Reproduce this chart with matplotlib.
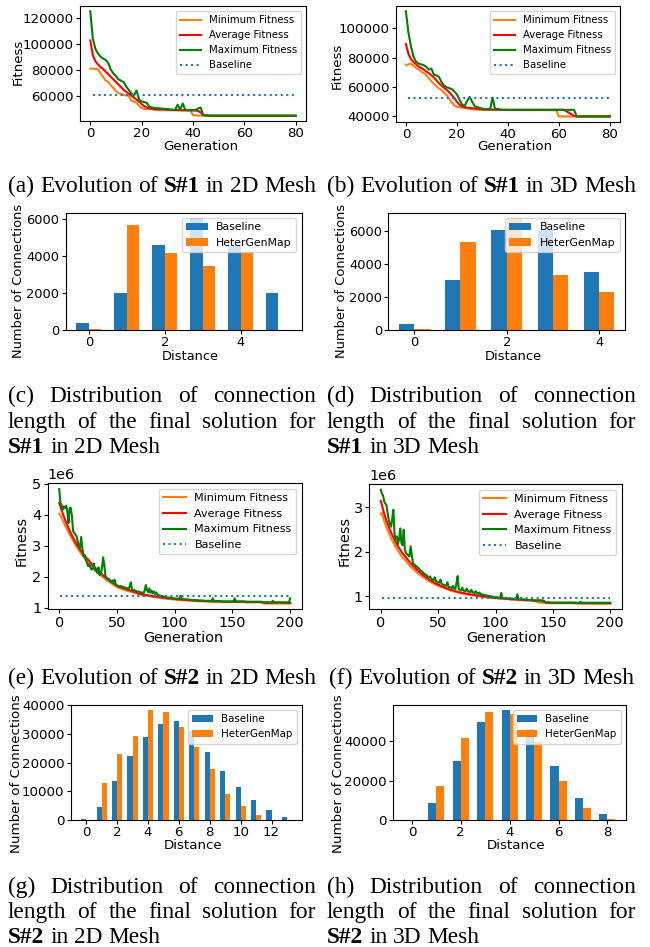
import numpy as np
import matplotlib
matplotlib.use("Agg")
import matplotlib.pyplot as plt
from matplotlib.ticker import MultipleLocator

# ---------------- data ----------------
# S#1 evolution, fitness values in thousands
gens_1 = list(range(81))

min_2d_s1 = [80.8, 80.8, 80.5, 80.5, 77.0, 74.5, 71.5, 70.5, 68.0, 66.0,
             63.5, 62.0, 61.3, 60.5, 60.2, 59.8, 56.0, 55.5, 54.5, 52.0,
             50.5, 49.8, 49.7, 49.6, 49.5, 49.0, 49.0, 48.9, 48.9, 48.8,
             48.8, 48.8, 48.7, 48.7, 48.7, 48.6, 48.6, 48.6, 48.5, 48.5,
             45.0, 44.8, 44.7, 44.6, 44.6, 44.5, 44.5, 44.5, 44.5, 44.5,
             44.5, 44.5, 44.5, 44.5, 44.5, 44.5, 44.5, 44.5, 44.5, 44.5,
             44.5, 44.5, 44.5, 44.5, 44.5, 44.5, 44.5, 44.5, 44.5, 44.5,
             44.5, 44.5, 44.5, 44.5, 44.5, 44.5, 44.5, 44.5, 44.5, 44.5,
             44.5]
avg_2d_s1 = [102.5, 91.0, 86.5, 84.0, 82.0, 80.5, 78.5, 76.5, 74.5, 72.5,
             70.5, 68.5, 66.5, 64.5, 63.0, 61.5, 60.0, 58.5, 57.0, 55.5,
             53.5, 52.0, 51.0, 50.3, 50.0, 49.8, 49.6, 49.5, 49.4, 49.3,
             49.2, 49.1, 49.0, 49.0, 48.9, 48.9, 48.8, 48.8, 48.7, 48.7,
             48.6, 48.5, 48.2, 47.0, 45.2, 44.7, 44.6, 44.5, 44.5, 44.5,
             44.5, 44.5, 44.5, 44.5, 44.5, 44.5, 44.5, 44.5, 44.5, 44.5,
             44.5, 44.5, 44.5, 44.5, 44.5, 44.5, 44.5, 44.5, 44.5, 44.5,
             44.5, 44.5, 44.5, 44.5, 44.5, 44.5, 44.5, 44.5, 44.5, 44.5,
             44.5]
max_2d_s1 = [125.0, 104.0, 96.0, 92.5, 90.0, 88.5, 87.5, 85.0, 80.0, 77.0,
             75.0, 72.5, 71.5, 70.5, 67.0, 64.5, 61.5, 60.0, 64.0, 57.0,
             55.5, 55.0, 54.5, 51.6, 50.9, 50.5, 50.3, 50.2, 50.0, 49.8,
             49.6, 49.4, 49.2, 49.0, 53.0, 49.2, 54.0, 49.0, 48.9, 48.9,
             48.9, 48.9, 50.2, 50.8, 45.0, 44.8, 44.7, 44.7, 44.6, 44.6,
             44.6, 44.6, 44.6, 44.6, 44.6, 44.6, 44.6, 44.6, 44.6, 44.6,
             44.6, 44.6, 44.6, 44.6, 44.6, 44.6, 44.6, 44.6, 44.6, 44.6,
             44.6, 44.6, 44.6, 44.6, 44.6, 44.6, 44.6, 44.6, 44.6, 44.6,
             44.6]
base_2d_s1 = 60.8

min_3d_s1 = [74.9, 75.5, 76.0, 74.5, 73.0, 72.0, 70.5, 69.5, 68.0, 66.0,
             64.0, 62.0, 60.5, 59.0, 58.0, 56.0, 54.5, 52.0, 49.5, 47.5,
             46.5, 46.3, 46.0, 45.8, 45.5, 45.2, 45.0, 44.8, 44.6, 44.5,
             44.4, 44.4, 44.4, 44.4, 44.4, 44.4, 44.4, 44.4, 44.4, 44.4,
             44.3, 44.3, 44.3, 44.3, 44.3, 44.3, 44.3, 44.3, 44.3, 44.3,
             44.3, 44.3, 44.3, 44.3, 44.3, 44.3, 44.3, 44.3, 44.3, 44.3,
             40.0, 40.0, 40.0, 40.0, 40.0, 40.0, 40.0, 40.0, 40.0, 40.0,
             40.0, 40.0, 40.0, 40.0, 40.0, 40.0, 40.0, 40.0, 40.0, 40.0,
             40.0]
avg_3d_s1 = [89.3, 82.5, 79.0, 77.0, 75.5, 74.0, 73.0, 72.0, 70.5, 69.5,
             68.0, 66.5, 64.5, 62.5, 61.0, 59.5, 58.0, 56.5, 54.5, 52.5,
             50.0, 48.0, 46.8, 46.2, 46.0, 45.8, 45.6, 45.5, 45.4, 45.2,
             45.0, 44.9, 44.8, 44.8, 44.7, 44.6, 44.6, 44.5, 44.5, 44.5,
             44.5, 44.5, 44.5, 44.5, 44.5, 44.5, 44.5, 44.5, 44.5, 44.5,
             44.5, 44.5, 44.5, 44.5, 44.5, 44.5, 44.5, 44.5, 44.5, 44.5,
             44.5, 44.5, 44.5, 43.5, 42.5, 41.5, 40.3, 40.0, 40.0, 40.0,
             40.0, 40.0, 40.0, 40.0, 40.0, 40.0, 40.0, 40.0, 40.0, 40.0,
             40.0]
max_3d_s1 = [111.6, 97.0, 87.7, 80.7, 77.2, 76.0, 75.4, 74.9, 73.7, 71.9,
             72.6, 68.4, 68.0, 66.8, 63.3, 61.0, 59.8, 59.3, 58.6, 57.0,
             55.1, 51.6, 48.1, 47.0, 50.5, 53.3, 50.0, 47.0, 46.3, 45.8,
             45.3, 45.0, 44.8, 44.7, 52.8, 44.7, 45.3, 44.6, 44.5, 44.5,
             44.5, 44.5, 44.5, 44.5, 44.5, 44.5, 44.5, 44.5, 44.5, 44.5,
             44.5, 44.5, 44.5, 44.5, 44.5, 44.5, 44.5, 44.5, 44.5, 44.5,
             44.5, 44.5, 44.5, 44.5, 44.5, 44.5, 44.5, 40.0, 40.0, 40.0,
             40.0, 40.0, 40.0, 40.0, 40.0, 40.0, 40.0, 40.0, 40.0, 40.0,
             40.0]
base_3d_s1 = 52.5

# S#2 evolution, fitness values in millions
gens_2 = list(range(201))

min_2d_s2 = [4.03, 3.98, 3.90, 3.82, 3.74, 3.66, 3.58, 3.50, 3.43, 3.36,
             3.30, 3.23, 3.16, 3.09, 3.03, 2.97, 2.91, 2.85, 2.80, 2.74,
             2.69, 2.64, 2.60, 2.55, 2.51, 2.47, 2.42, 2.38, 2.34, 2.30,
             2.26, 2.22, 2.18, 2.14, 2.11, 2.07, 2.04, 2.01, 1.98, 1.95,
             1.92, 1.89, 1.86, 1.84, 1.81, 1.79, 1.76, 1.74, 1.71, 1.69,
             1.66, 1.65, 1.63, 1.62, 1.60, 1.59, 1.58, 1.57, 1.55, 1.54,
             1.53, 1.52, 1.51, 1.50, 1.49, 1.48, 1.47, 1.46, 1.44, 1.43,
             1.42, 1.41, 1.40, 1.40, 1.39, 1.38, 1.38, 1.37, 1.37, 1.36,
             1.35, 1.35, 1.34, 1.34, 1.33, 1.33, 1.32, 1.32, 1.31, 1.31,
             1.30, 1.30, 1.29, 1.29, 1.28, 1.28, 1.28, 1.27, 1.27, 1.26,
             1.26, 1.26, 1.25, 1.25, 1.25, 1.24, 1.24, 1.24, 1.23, 1.23,
             1.23, 1.23, 1.22, 1.22, 1.22, 1.22, 1.21, 1.21, 1.21, 1.21,
             1.21, 1.20, 1.20, 1.20, 1.20, 1.20, 1.20, 1.20, 1.20, 1.20,
             1.19, 1.19, 1.19, 1.19, 1.19, 1.19, 1.19, 1.19, 1.19, 1.19,
             1.19, 1.18, 1.18, 1.18, 1.18, 1.18, 1.18, 1.18, 1.18, 1.18,
             1.18, 1.18, 1.18, 1.18, 1.18, 1.18, 1.18, 1.18, 1.18, 1.18,
             1.18, 1.17, 1.17, 1.17, 1.17, 1.17, 1.17, 1.17, 1.17, 1.17,
             1.17, 1.17, 1.17, 1.17, 1.17, 1.17, 1.14, 1.14, 1.13, 1.13,
             1.13, 1.13, 1.13, 1.13, 1.13, 1.13, 1.13, 1.13, 1.13, 1.13,
             1.13, 1.13, 1.13, 1.13, 1.13, 1.13, 1.13, 1.13, 1.13, 1.13,
             1.13]
avg_2d_s2 = [4.38, 4.26, 4.15, 4.04, 3.94, 3.84, 3.75, 3.66, 3.57, 3.49,
             3.41, 3.33, 3.26, 3.19, 3.12, 3.05, 2.99, 2.93, 2.88, 2.82,
             2.77, 2.72, 2.68, 2.63, 2.59, 2.55, 2.50, 2.46, 2.42, 2.37,
             2.33, 2.29, 2.25, 2.21, 2.18, 2.14, 2.11, 2.08, 2.04, 2.01,
             1.98, 1.95, 1.92, 1.89, 1.87, 1.84, 1.81, 1.78, 1.76, 1.73,
             1.70, 1.69, 1.67, 1.66, 1.64, 1.63, 1.62, 1.61, 1.59, 1.58,
             1.57, 1.56, 1.55, 1.53, 1.52, 1.51, 1.50, 1.49, 1.47, 1.46,
             1.45, 1.44, 1.43, 1.42, 1.42, 1.41, 1.40, 1.40, 1.39, 1.39,
             1.38, 1.37, 1.37, 1.36, 1.36, 1.35, 1.34, 1.34, 1.33, 1.33,
             1.32, 1.32, 1.31, 1.31, 1.30, 1.30, 1.30, 1.29, 1.29, 1.28,
             1.28, 1.28, 1.27, 1.27, 1.27, 1.26, 1.26, 1.26, 1.25, 1.25,
             1.25, 1.25, 1.24, 1.24, 1.24, 1.24, 1.23, 1.23, 1.23, 1.23,
             1.23, 1.22, 1.22, 1.22, 1.22, 1.22, 1.21, 1.21, 1.21, 1.21,
             1.21, 1.21, 1.20, 1.20, 1.20, 1.20, 1.20, 1.20, 1.20, 1.20,
             1.20, 1.20, 1.19, 1.19, 1.19, 1.19, 1.19, 1.19, 1.19, 1.19,
             1.19, 1.19, 1.19, 1.19, 1.19, 1.19, 1.19, 1.19, 1.19, 1.19,
             1.19, 1.18, 1.18, 1.18, 1.18, 1.18, 1.18, 1.18, 1.18, 1.18,
             1.18, 1.18, 1.18, 1.18, 1.18, 1.18, 1.17, 1.17, 1.16, 1.16,
             1.16, 1.16, 1.16, 1.16, 1.16, 1.16, 1.16, 1.16, 1.16, 1.16,
             1.16, 1.16, 1.16, 1.15, 1.15, 1.15, 1.15, 1.15, 1.15, 1.15,
             1.15]
max_2d_s2 = [4.83, 4.38, 4.32, 4.16, 4.27, 4.22, 4.29, 4.11, 3.73, 4.22,
             4.22, 3.95, 3.47, 3.41, 3.36, 3.30, 3.14, 2.98, 2.93, 3.28,
             2.93, 2.66, 2.70, 2.55, 2.45, 2.34, 2.40, 2.29, 2.23, 2.25,
             2.42, 2.20, 2.22, 2.12, 2.30, 2.05, 2.10, 2.28, 2.62, 2.40,
             2.02, 1.96, 1.92, 1.93, 1.86, 1.82, 1.88, 1.78, 1.90, 1.75,
             1.72, 1.70, 1.69, 1.70, 1.66, 1.68, 1.64, 1.65, 1.62, 1.63,
             1.60, 1.68, 1.82, 1.58, 1.56, 1.57, 1.54, 1.53, 1.52, 1.51,
             1.50, 1.49, 1.48, 1.47, 1.55, 1.73, 1.56, 1.50, 1.62, 1.48,
             1.55, 1.46, 1.52, 1.44, 1.49, 1.42, 1.40, 1.39, 1.38, 1.37,
             1.36, 1.35, 1.34, 1.33, 1.33, 1.32, 1.32, 1.31, 1.31, 1.30,
             1.30, 1.29, 1.29, 1.28, 1.30, 1.38, 1.30, 1.27, 1.26, 1.27,
             1.26, 1.26, 1.27, 1.25, 1.25, 1.25, 1.24, 1.24, 1.24, 1.24,
             1.23, 1.23, 1.23, 1.23, 1.23, 1.22, 1.22, 1.22, 1.22, 1.22,
             1.22, 1.22, 1.21, 1.30, 1.21, 1.21, 1.21, 1.21, 1.21, 1.21,
             1.21, 1.20, 1.20, 1.20, 1.20, 1.20, 1.20, 1.20, 1.20, 1.20,
             1.20, 1.20, 1.30, 1.20, 1.20, 1.20, 1.20, 1.20, 1.20, 1.20,
             1.20, 1.20, 1.19, 1.19, 1.19, 1.19, 1.19, 1.19, 1.19, 1.19,
             1.19, 1.19, 1.19, 1.19, 1.19, 1.19, 1.18, 1.18, 1.17, 1.17,
             1.17, 1.17, 1.17, 1.17, 1.17, 1.22, 1.17, 1.17, 1.17, 1.17,
             1.17, 1.17, 1.17, 1.17, 1.17, 1.17, 1.17, 1.17, 1.17, 1.17,
             1.30]
base_2d_s2 = 1.39

min_3d_s2 = [2.85, 2.88, 2.78, 2.70, 2.62, 2.55, 2.49, 2.43, 2.37, 2.31,
             2.26, 2.21, 2.16, 2.11, 2.07, 2.03, 1.99, 1.95, 1.91, 1.88,
             1.85, 1.82, 1.79, 1.76, 1.73, 1.70, 1.67, 1.65, 1.62, 1.60,
             1.58, 1.55, 1.53, 1.51, 1.49, 1.47, 1.45, 1.43, 1.41, 1.40,
             1.38, 1.36, 1.35, 1.33, 1.32, 1.30, 1.29, 1.28, 1.26, 1.25,
             1.24, 1.23, 1.22, 1.21, 1.20, 1.19, 1.18, 1.17, 1.16, 1.15,
             1.14, 1.13, 1.13, 1.12, 1.11, 1.11, 1.10, 1.09, 1.09, 1.08,
             1.07, 1.07, 1.06, 1.06, 1.05, 1.05, 1.04, 1.04, 1.03, 1.03,
             1.03, 1.02, 1.02, 1.01, 1.01, 1.01, 1.00, 1.00, 1.00, 0.99,
             0.99, 0.99, 0.98, 0.98, 0.98, 0.97, 0.97, 0.97, 0.97, 0.96,
             0.96, 0.96, 0.96, 0.95, 0.95, 0.95, 0.95, 0.95, 0.94, 0.94,
             0.94, 0.94, 0.94, 0.93, 0.93, 0.93, 0.93, 0.93, 0.93, 0.92,
             0.92, 0.92, 0.92, 0.92, 0.92, 0.91, 0.91, 0.91, 0.91, 0.91,
             0.91, 0.91, 0.90, 0.90, 0.90, 0.89, 0.88, 0.87, 0.86, 0.86,
             0.86, 0.86, 0.86, 0.86, 0.85, 0.85, 0.85, 0.85, 0.85, 0.85,
             0.85, 0.85, 0.85, 0.85, 0.85, 0.85, 0.85, 0.85, 0.85, 0.85,
             0.85, 0.85, 0.85, 0.85, 0.85, 0.85, 0.85, 0.85, 0.85, 0.85,
             0.85, 0.85, 0.85, 0.85, 0.85, 0.84, 0.84, 0.84, 0.84, 0.84,
             0.84, 0.84, 0.84, 0.84, 0.84, 0.84, 0.84, 0.84, 0.84, 0.84,
             0.84, 0.84, 0.84, 0.84, 0.84, 0.84, 0.84, 0.84, 0.84, 0.84,
             0.84]
avg_3d_s2 = [3.15, 3.05, 2.95, 2.86, 2.78, 2.70, 2.63, 2.57, 2.50, 2.44,
             2.38, 2.33, 2.27, 2.22, 2.17, 2.13, 2.09, 2.05, 2.01, 1.97,
             1.94, 1.91, 1.88, 1.84, 1.81, 1.78, 1.75, 1.72, 1.69, 1.67,
             1.64, 1.62, 1.59, 1.57, 1.54, 1.52, 1.50, 1.48, 1.46, 1.44,
             1.42, 1.40, 1.38, 1.37, 1.35, 1.34, 1.32, 1.31, 1.29, 1.28,
             1.27, 1.26, 1.24, 1.23, 1.22, 1.21, 1.20, 1.19, 1.18, 1.17,
             1.16, 1.15, 1.14, 1.14, 1.13, 1.12, 1.11, 1.11, 1.10, 1.09,
             1.09, 1.08, 1.08, 1.07, 1.07, 1.06, 1.06, 1.05, 1.05, 1.04,
             1.04, 1.04, 1.03, 1.03, 1.02, 1.02, 1.02, 1.01, 1.01, 1.01,
             1.00, 1.00, 1.00, 0.99, 0.99, 0.99, 0.98, 0.98, 0.98, 0.97,
             0.97, 0.97, 0.97, 0.96, 0.96, 0.96, 0.96, 0.96, 0.95, 0.95,
             0.95, 0.95, 0.95, 0.94, 0.94, 0.94, 0.94, 0.94, 0.94, 0.93,
             0.93, 0.93, 0.93, 0.93, 0.93, 0.92, 0.92, 0.92, 0.92, 0.92,
             0.92, 0.92, 0.91, 0.91, 0.91, 0.91, 0.91, 0.91, 0.91, 0.91,
             0.91, 0.90, 0.88, 0.87, 0.86, 0.86, 0.86, 0.86, 0.86, 0.86,
             0.86, 0.86, 0.86, 0.86, 0.86, 0.86, 0.86, 0.86, 0.86, 0.86,
             0.86, 0.86, 0.86, 0.86, 0.86, 0.86, 0.86, 0.86, 0.86, 0.86,
             0.85, 0.85, 0.85, 0.85, 0.85, 0.85, 0.85, 0.85, 0.85, 0.85,
             0.85, 0.85, 0.85, 0.85, 0.85, 0.85, 0.85, 0.85, 0.85, 0.85,
             0.85, 0.85, 0.85, 0.85, 0.85, 0.85, 0.85, 0.85, 0.85, 0.85,
             0.85]
max_3d_s2 = [3.40, 3.31, 3.27, 3.13, 3.09, 3.05, 2.87, 2.72, 2.62, 2.57,
             2.75, 2.95, 2.40, 2.28, 2.35, 2.18, 2.30, 2.53, 2.20, 2.15,
             2.50, 2.05, 1.98, 1.95, 1.92, 1.90, 2.13, 1.95, 1.76, 1.72,
             1.70, 1.68, 1.66, 1.63, 1.60, 1.58, 1.56, 1.53, 1.51, 1.49,
             1.48, 1.44, 1.43, 1.45, 1.40, 1.38, 1.37, 1.43, 1.35, 1.33,
             1.32, 1.31, 1.38, 1.29, 1.27, 1.26, 1.25, 1.24, 1.32, 1.22,
             1.21, 1.20, 1.19, 1.24, 1.18, 1.17, 1.30, 1.46, 1.16, 1.15,
             1.14, 1.20, 1.13, 1.13, 1.12, 1.18, 1.11, 1.11, 1.10, 1.15,
             1.09, 1.09, 1.08, 1.12, 1.07, 1.06, 1.09, 1.05, 1.05, 1.04,
             1.03, 1.03, 1.02, 1.02, 1.01, 1.01, 1.00, 1.00, 0.99, 0.99,
             0.98, 0.98, 0.98, 0.97, 0.97, 1.08, 0.97, 0.96, 0.96, 0.96,
             0.96, 0.95, 0.95, 0.95, 0.95, 0.95, 0.94, 0.94, 0.94, 1.05,
             0.94, 0.93, 0.93, 0.93, 0.93, 0.93, 0.93, 0.92, 0.92, 0.92,
             0.92, 0.92, 0.92, 0.91, 0.91, 0.91, 0.91, 0.91, 0.91, 0.91,
             0.91, 0.91, 0.91, 0.88, 0.87, 0.87, 0.87, 0.86, 0.86, 0.86,
             0.86, 0.86, 0.86, 0.86, 0.86, 0.86, 0.86, 0.86, 0.86, 0.86,
             0.86, 0.86, 0.86, 0.86, 0.86, 0.86, 0.86, 0.86, 0.86, 0.86,
             0.86, 0.86, 0.86, 0.86, 0.88, 0.86, 0.86, 0.86, 0.86, 0.86,
             0.86, 0.86, 0.86, 0.86, 0.86, 0.86, 0.86, 0.86, 0.86, 0.86,
             0.86, 0.86, 0.86, 0.86, 0.86, 0.86, 0.86, 0.86, 0.86, 0.86,
             0.86]
base_3d_s2 = 0.96

# connection length distributions
dist_2d_s1 = [0, 1, 2, 3, 4, 5]
conn_base_2d_s1 = [370, 2000, 4600, 6050, 4600, 2000]
conn_hgm_2d_s1 = [30, 5700, 4150, 3450, 4250, 10]

dist_3d_s1 = [0, 1, 2, 3, 4]
conn_base_3d_s1 = [350, 3050, 6050, 6050, 3500]
conn_hgm_3d_s1 = [50, 5300, 6750, 3300, 2300]

dist_2d_s2 = [0, 1, 2, 3, 4, 5, 6, 7, 8, 9, 10, 11, 12, 13]
conn_base_2d_s2 = [200, 4650, 13400, 22400, 28700, 33250, 34300, 30800,
                   23800, 17200, 11600, 7000, 3600, 1200]
conn_hgm_2d_s2 = [100, 12700, 23000, 29300, 38100, 37400, 32200, 25500,
                  17900, 9200, 5000, 1900, 100, 50]

dist_3d_s2 = [0, 1, 2, 3, 4, 5, 6, 7, 8]
conn_base_3d_s2 = [200, 8800, 29700, 49500, 55600, 46000, 27600, 11400, 3200]
conn_hgm_3d_s2 = [200, 17500, 41400, 54600, 53900, 39700, 20000, 6300, 700]

# ---------------- layout ----------------
W, H = 650, 947
fig = plt.figure(figsize=(W / 100, H / 100), dpi=100)


def axes_px(box):
    l, t, r, b = box
    ax = fig.add_axes([l / W, 1 - b / H, (r - l) / W, (b - t) / H])
    ax.tick_params(length=2.6, pad=2.0)
    return ax


def place_labels(ax, box, xlabel, ylabel, xpos, ypos, fs):
    l, t, r, b = box
    ax.set_xlabel(xlabel, fontsize=fs, va="center")
    ax.set_ylabel(ylabel, fontsize=fs, va="center")
    ax.xaxis.set_label_coords((xpos[0] - l) / (r - l), (b - xpos[1]) / (b - t))
    ax.yaxis.set_label_coords((ypos[0] - l) / (r - l), (b - ypos[1]) / (b - t))


def fitness_plot(box, gens, mn, av, mx, base, scale, xstep, ystep,
                 xpos, ypos, fs, fs_leg):
    ax = axes_px(box)
    ax.plot(gens, np.array(mn) * scale, color="tab:orange", label="Minimum Fitness")
    ax.plot(gens, np.array(av) * scale, color="red", label="Average Fitness")
    ax.plot(gens, np.array(mx) * scale, color="green", label="Maximum Fitness")
    ax.plot(gens[1:], [base * scale] * (len(gens) - 1), ":", color="tab:blue",
            label="Baseline")
    ax.xaxis.set_major_locator(MultipleLocator(xstep))
    ax.yaxis.set_major_locator(MultipleLocator(ystep))
    ax.tick_params(labelsize=fs)
    ax.yaxis.get_offset_text().set_fontsize(fs)
    ax.legend(loc="upper right", fontsize=fs_leg)
    place_labels(ax, box, "Generation", "Fitness", xpos, ypos, fs)
    return ax


def dist_plot(box, dist, base, hgm, ystep, xpos, ypos, fs, fs_leg,
              xlim=None, w=0.33):
    ax = axes_px(box)
    x = np.array(dist)
    ax.bar(x - w / 2, base, w, label="Baseline")
    ax.bar(x + w / 2, hgm, w, label="HeterGenMap")
    if xlim is not None:
        ax.set_xlim(*xlim)
    ax.xaxis.set_major_locator(MultipleLocator(2))
    ax.yaxis.set_major_locator(MultipleLocator(ystep))
    ax.tick_params(labelsize=fs)
    ax.legend(loc="upper right", fontsize=fs_leg)
    place_labels(ax, box, "Distance", "Number of Connections", xpos, ypos, fs)
    return ax


fitness_plot((80, 6, 306, 121), gens_1, min_2d_s1, avg_2d_s1, max_2d_s1,
             base_2d_s1, 1000, 20, 20000, (200.7, 147), (18.5, 62), 9.6, 7.3)
fitness_plot((395.7, 6, 620, 121.7), gens_1, min_3d_s1, avg_3d_s1, max_3d_s1,
             base_3d_s1, 1000, 20, 20000, (515.3, 147), (337, 66), 9.6, 7.3)
dist_plot((65.7, 212.7, 301.7, 330), dist_2d_s1, conn_base_2d_s1,
          conn_hgm_2d_s1, 2000, (190, 356), (18.5, 281), 9.4, 7.8)
dist_plot((388.3, 212.7, 625, 330), dist_3d_s1, conn_base_3d_s1,
          conn_hgm_3d_s1, 2000, (513.7, 356), (341.5, 281), 9.4, 7.8)
fitness_plot((47.7, 483.3, 301.7, 609.3), gens_2, min_2d_s2, avg_2d_s2,
             max_2d_s2, base_2d_s2, 1e6, 50, 1e6, (183.3, 638), (21.5, 541),
             10.4, 8)
fitness_plot((369.3, 484, 621.7, 609.3), gens_2, min_3d_s2, avg_3d_s2,
             max_3d_s2, base_3d_s2, 1e6, 50, 1e6, (506.5, 638), (344.5, 541),
             10.4, 8)
dist_plot((70.7, 705, 301.7, 820), dist_2d_s2, conn_base_2d_s2,
          conn_hgm_2d_s2, 10000, (192.8, 845), (17, 774), 9.6, 7.4,
          xlim=(-1.0, 13.95))
dist_plot((393.3, 705, 626, 820), dist_3d_s2, conn_base_3d_s2,
          conn_hgm_3d_s2, 20000, (516.2, 845), (339, 774), 9.6, 7.4)

# ---------------- captions ----------------
CAP_FS = 16.8
renderer = fig.canvas.get_renderer()


def caption_line(text, x0, x1, y, mode):
    words = text.split(" ")
    items = []
    for wd in words:
        t = fig.text(0, 1 - y / H, wd, fontsize=CAP_FS, family="Liberation Serif",
                     fontweight="bold" if wd.startswith("S#") else "normal",
                     ha="left", va="baseline")
        items.append(t)
    widths = [t.get_window_extent(renderer).width for t in items]
    space = 0.25 * CAP_FS * 100 / 72
    if mode == "justify":
        gap = (x1 - x0 - sum(widths)) / (len(items) - 1)
        start = x0
    elif mode == "left":
        gap = space
        start = x0
    else:
        gap = space
        start = (x0 + x1) / 2 - (sum(widths) + gap * (len(items) - 1)) / 2
    x = start
    for t, wdt in zip(items, widths):
        t.set_x(x / W)
        x += wdt + gap


LEFT = (8, 316)
RIGHT = (327, 636)

caption_line("(a) Evolution of S#1 in 2D Mesh", *LEFT, 192, "center")
caption_line("(b) Evolution of S#1 in 3D Mesh", *RIGHT, 192, "center")
caption_line("(e) Evolution of S#2 in 2D Mesh", *LEFT, 684, "center")
caption_line("(f) Evolution of S#2 in 3D Mesh", *RIGHT, 684, "center")

for tag, scen, mesh, col, ys in [("(c)", "S#1", "2D", LEFT, (402, 428, 453)),
                                 ("(d)", "S#1", "3D", RIGHT, (402, 428, 453)),
                                 ("(g)", "S#2", "2D", LEFT, (893, 918, 943)),
                                 ("(h)", "S#2", "3D", RIGHT, (893, 918, 943))]:
    caption_line(tag + " Distribution of connection", *col, ys[0], "justify")
    caption_line("length of the final solution for", *col, ys[1], "justify")
    caption_line(scen + " in " + mesh + " Mesh", *col, ys[2], "left")

fig.savefig("out.png", dpi=100)
